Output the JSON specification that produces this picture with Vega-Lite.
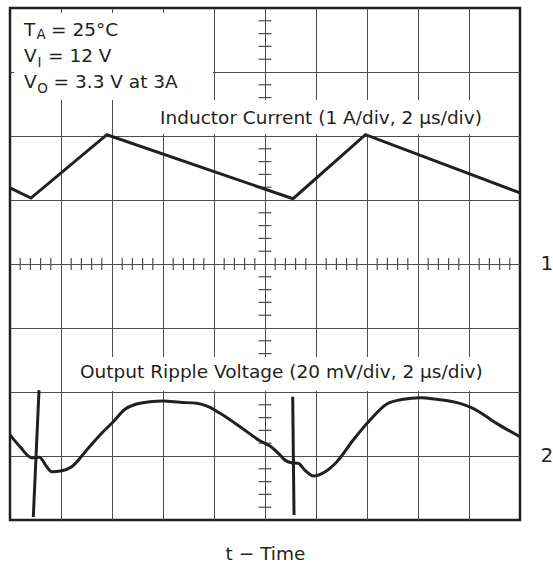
{
  "$schema": "https://vega.github.io/schema/vega-lite/v6.json",
  "width": 510,
  "height": 512,
  "autosize": {"type": "none"},
  "padding": {"left": 10, "top": 8, "right": 33, "bottom": 45},
  "background": "white",
  "config": {
    "view": {"stroke": "#231f20", "strokeWidth": 2.5},
    "font": "DejaVu Sans"
  },
  "datasets": {
    "inductor": [
      {"x": 0, "y": 5.19}, {"x": 0.41, "y": 5.03}, {"x": 1.9, "y": 6.02},
      {"x": 5.55, "y": 5.02}, {"x": 6.97, "y": 6.02}, {"x": 10, "y": 5.11}
    ],
    "ripple": [
      {"x": 0, "y": 1.33}, {"x": 0.196, "y": 1.145}, {"x": 0.425, "y": 0.973},
      {"x": 0.575, "y": 0.98}, {"x": 0.72, "y": 0.833}, {"x": 0.818, "y": 0.755},
      {"x": 1.014, "y": 0.77}, {"x": 1.21, "y": 0.833}, {"x": 1.504, "y": 1.094},
      {"x": 1.765, "y": 1.328}, {"x": 2.025, "y": 1.536}, {"x": 2.255, "y": 1.73},
      {"x": 2.484, "y": 1.8125}, {"x": 2.745, "y": 1.848}, {"x": 3.006, "y": 1.86},
      {"x": 3.333, "y": 1.839}, {"x": 3.66, "y": 1.823}, {"x": 3.888, "y": 1.77},
      {"x": 4.118, "y": 1.667}, {"x": 4.51, "y": 1.458}, {"x": 4.9, "y": 1.239},
      {"x": 5.098, "y": 1.156}, {"x": 5.294, "y": 1.016}, {"x": 5.39, "y": 0.9375},
      {"x": 5.52, "y": 0.895}, {"x": 5.65, "y": 0.886}, {"x": 5.78, "y": 0.78},
      {"x": 5.95, "y": 0.6875}, {"x": 6.18, "y": 0.755}, {"x": 6.41, "y": 0.911},
      {"x": 6.73, "y": 1.25}, {"x": 7.06, "y": 1.5625}, {"x": 7.39, "y": 1.8125},
      {"x": 7.71, "y": 1.886}, {"x": 8.04, "y": 1.911}, {"x": 8.37, "y": 1.886},
      {"x": 8.82, "y": 1.823}, {"x": 9.08, "y": 1.745}, {"x": 9.54, "y": 1.51},
      {"x": 10, "y": 1.3}
    ],
    "spikes": [
      {"s": "sp1", "x": 0.569, "y": 2.03}, {"s": "sp1", "x": 0.457, "y": 0.047},
      {"s": "sp2", "x": 5.543, "y": 1.927}, {"s": "sp2", "x": 5.569, "y": 0.078}
    ],
    "vticks": [
      {"x": 5, "y": 0.2}, {"x": 5, "y": 0.4}, {"x": 5, "y": 0.6}, {"x": 5, "y": 0.8},
      {"x": 5, "y": 1.2}, {"x": 5, "y": 1.4}, {"x": 5, "y": 1.6}, {"x": 5, "y": 1.8},
      {"x": 5, "y": 2.2}, {"x": 5, "y": 2.4}, {"x": 5, "y": 2.6}, {"x": 5, "y": 2.8},
      {"x": 5, "y": 3.2}, {"x": 5, "y": 3.4}, {"x": 5, "y": 3.6}, {"x": 5, "y": 3.8},
      {"x": 5, "y": 4.2}, {"x": 5, "y": 4.4}, {"x": 5, "y": 4.6}, {"x": 5, "y": 4.8},
      {"x": 5, "y": 5.2}, {"x": 5, "y": 5.4}, {"x": 5, "y": 5.6}, {"x": 5, "y": 5.8},
      {"x": 5, "y": 6.2}, {"x": 5, "y": 6.4}, {"x": 5, "y": 6.6}, {"x": 5, "y": 6.8},
      {"x": 5, "y": 7.2}, {"x": 5, "y": 7.4}, {"x": 5, "y": 7.6}, {"x": 5, "y": 7.8}
    ],
    "hticks": [
      {"x": 0.2, "y": 4}, {"x": 0.4, "y": 4}, {"x": 0.6, "y": 4}, {"x": 0.8, "y": 4},
      {"x": 1.2, "y": 4}, {"x": 1.4, "y": 4}, {"x": 1.6, "y": 4}, {"x": 1.8, "y": 4},
      {"x": 2.2, "y": 4}, {"x": 2.4, "y": 4}, {"x": 2.6, "y": 4}, {"x": 2.8, "y": 4},
      {"x": 3.2, "y": 4}, {"x": 3.4, "y": 4}, {"x": 3.6, "y": 4}, {"x": 3.8, "y": 4},
      {"x": 4.2, "y": 4}, {"x": 4.4, "y": 4}, {"x": 4.6, "y": 4}, {"x": 4.8, "y": 4},
      {"x": 5.2, "y": 4}, {"x": 5.4, "y": 4}, {"x": 5.6, "y": 4}, {"x": 5.8, "y": 4},
      {"x": 6.2, "y": 4}, {"x": 6.4, "y": 4}, {"x": 6.6, "y": 4}, {"x": 6.8, "y": 4},
      {"x": 7.2, "y": 4}, {"x": 7.4, "y": 4}, {"x": 7.6, "y": 4}, {"x": 7.8, "y": 4},
      {"x": 8.2, "y": 4}, {"x": 8.4, "y": 4}, {"x": 8.6, "y": 4}, {"x": 8.8, "y": 4},
      {"x": 9.2, "y": 4}, {"x": 9.4, "y": 4}, {"x": 9.6, "y": 4}, {"x": 9.8, "y": 4}
    ],
    "boxes": [
      {"x": 0.078, "x2": 3.98, "y": 6.5625, "y2": 7.92},
      {"x": 2.745, "x2": 9.45, "y": 6.03, "y2": 6.5625},
      {"x": 1.137, "x2": 9.47, "y": 2.016, "y2": 2.547}
    ],
    "labels": [
      {"x": 0.275, "y": 7.5625, "text": "T"},
      {"x": 0.806, "y": 7.5625, "text": "= 25°C"},
      {"x": 0.275, "y": 7.156, "text": "V"},
      {"x": 0.745, "y": 7.156, "text": "= 12 V"},
      {"x": 0.275, "y": 6.75, "text": "V"},
      {"x": 0.855, "y": 6.75, "text": "= 3.3 V at 3A"},
      {"x": 2.941, "y": 6.1875, "text": "Inductor Current (1 A/div, 2 µs/div)"},
      {"x": 1.3725, "y": 2.219, "text": "Output Ripple Voltage (20 mV/div, 2 µs/div)"}
    ],
    "subs": [
      {"x": 0.52, "y": 7.511, "text": "A"},
      {"x": 0.539, "y": 7.083, "text": "I"},
      {"x": 0.535, "y": 6.672, "text": "O"}
    ],
    "channels": [
      {"x": 10, "y": 4, "text": "1"},
      {"x": 10, "y": 1, "text": "2"}
    ]
  },
  "encoding": {
    "x": {
      "field": "x", "type": "quantitative",
      "scale": {"domain": [0, 10], "nice": false, "zero": false},
      "axis": {
        "values": [1, 2, 3, 4, 5, 6, 7, 8, 9],
        "grid": true, "gridColor": "#4d4d4d", "gridWidth": 1, "gridOpacity": 1,
        "labels": false, "ticks": false, "domain": false,
        "title": "t − Time", "titleFont": "DejaVu Sans", "titleFontSize": 18.5,
        "titleFontWeight": "normal", "titleColor": "#231f20",
        "titleBaseline": "alphabetic", "titlePadding": 39
      }
    },
    "y": {
      "field": "y", "type": "quantitative",
      "scale": {"domain": [0, 8], "nice": false, "zero": false},
      "axis": {
        "values": [1, 2, 3, 4, 5, 6, 7],
        "grid": true, "gridColor": "#4d4d4d", "gridWidth": 1, "gridOpacity": 1,
        "labels": false, "ticks": false, "domain": false, "title": null
      }
    }
  },
  "layer": [
    {
      "data": {"name": "vticks"},
      "mark": {"type": "tick", "orient": "horizontal", "size": 13, "thickness": 1.2, "color": "#4d4d4d", "opacity": 1}
    },
    {
      "data": {"name": "hticks"},
      "mark": {"type": "tick", "orient": "vertical", "size": 12, "thickness": 1.2, "color": "#4d4d4d", "opacity": 1}
    },
    {
      "data": {"name": "boxes"},
      "mark": {"type": "rect", "color": "white", "opacity": 1},
      "encoding": {
        "x2": {"field": "x2"},
        "y2": {"field": "y2"}
      }
    },
    {
      "data": {"name": "labels"},
      "mark": {"type": "text", "font": "DejaVu Sans", "fontSize": 18.5, "align": "left", "baseline": "alphabetic", "color": "#231f20"},
      "encoding": {"text": {"field": "text"}}
    },
    {
      "data": {"name": "subs"},
      "mark": {"type": "text", "font": "DejaVu Sans", "fontSize": 13.5, "align": "left", "baseline": "alphabetic", "color": "#231f20"},
      "encoding": {"text": {"field": "text"}}
    },
    {
      "data": {"name": "channels"},
      "mark": {"type": "text", "font": "DejaVu Sans", "fontSize": 20, "align": "left", "baseline": "middle", "dx": 20.5, "color": "#231f20"},
      "encoding": {"text": {"field": "text"}}
    },
    {
      "data": {"name": "inductor"},
      "mark": {"type": "line", "color": "#231f20", "strokeWidth": 3, "interpolate": "linear"}
    },
    {
      "data": {"name": "ripple"},
      "mark": {"type": "line", "color": "#231f20", "strokeWidth": 3, "interpolate": "monotone"}
    },
    {
      "data": {"name": "spikes"},
      "mark": {"type": "line", "color": "#231f20", "strokeWidth": 3},
      "encoding": {"detail": {"field": "s"}}
    }
  ]
}
